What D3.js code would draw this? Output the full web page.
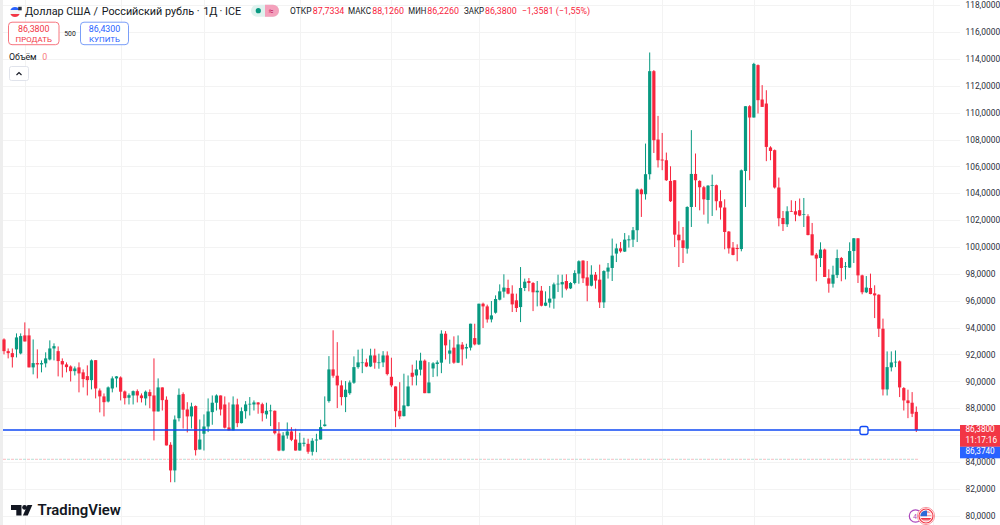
<!DOCTYPE html>
<html>
<head>
<meta charset="utf-8">
<script src="https://cdn.jsdelivr.net/npm/d3@7"></script>
<style>
  html, body { margin: 0; padding: 0; background: #fff; overflow: hidden; }
  svg { display: block; }
  text { font-family: Roboto, "Noto Sans", sans-serif; }
</style>
</head>
<body>
<script>
const width = 1000;
const height = 525;
const plotRight = 960;

const upColor = "#089981";
const downColor = "#f7253d";
const levelColor = "#0f49f5";
const gridColor = "#f3f3f3";
const textColor = "#131722";

// daily candles
const opens = [93.12,92.25,92.10,92.38,92.08,93.42,93.42,91.04,91.36,91.26,91.34,91.63,92.45,92.25,91.51,91.26,91.11,90.76,91.04,90.67,
  90.39,90.09,91.58,89.32,88.88,88.50,89.47,90.22,90.29,89.25,88.78,88.95,89.27,88.95,88.73,89.20,88.95,87.76,89.55,88.63,
  85.28,83.37,87.26,89.05,87.91,87.39,88.16,84.93,86.10,86.64,87.71,88.41,88.95,88.28,86.57,86.35,88.28,86.89,87.78,88.28,
  88.28,88.43,88.30,87.54,87.78,87.81,86.12,84.85,85.97,86.27,85.67,84.85,85.35,85.35,84.76,85.60,85.67,86.67,88.53,90.89,
  90.42,89.70,88.83,89.12,89.90,91.06,91.39,91.41,91.11,91.93,91.39,91.41,91.93,90.34,89.62,87.81,87.41,88.16,90.64,90.44,
  90.87,91.54,89.12,90.96,91.29,91.39,93.55,92.06,92.51,91.39,92.73,92.45,92.51,93.22,92.75,95.78,95.58,94.61,95.11,96.08,
  96.68,96.95,96.53,96.03,95.53,96.95,97.47,97.32,96.63,96.75,95.63,95.86,96.16,97.22,97.22,97.47,96.92,97.32,98.02,98.99,
  97.74,97.12,97.94,97.57,95.88,98.17,98.44,99.51,99.90,99.66,100.50,100.55,101.25,104.28,103.93,105.42,113.09,108.00,106.51,106.46,
  104.92,104.97,100.92,100.50,99.88,102.98,105.44,104.92,104.45,103.50,104.58,104.60,103.41,102.94,101.15,99.96,99.93,99.85,105.66,110.48,
  109.64,113.54,110.98,110.68,107.41,107.21,104.43,102.16,101.69,102.68,102.66,102.74,102.39,102.29,100.95,99.43,99.18,99.81,97.67,97.27,
  97.91,99.18,98.51,98.47,99.70,100.65,97.89,96.63,96.95,96.55,96.45,93.92,89.40,91.04,91.41,91.49,89.50,88.58,88.41,87.73];
const highs = [93.20,92.45,92.45,93.57,93.57,94.39,93.94,93.12,92.38,91.56,92.16,93.05,92.83,92.60,91.71,91.41,91.19,91.11,91.41,90.89,
  91.19,91.63,91.58,89.47,89.10,89.62,90.37,90.39,90.37,89.32,89.10,89.32,89.40,89.10,89.32,89.40,91.71,90.22,89.55,88.88,
  85.47,87.46,89.47,89.18,88.45,88.41,88.21,87.16,87.54,88.73,88.95,89.03,88.95,88.88,88.43,88.88,88.71,88.06,88.53,88.83,
  88.58,88.45,88.41,88.41,88.26,87.83,86.96,86.22,86.94,86.59,86.47,86.17,85.80,85.73,85.77,86.10,87.14,88.88,91.88,93.80,
  92.92,90.07,90.02,90.07,91.86,92.36,92.43,91.69,92.43,92.43,92.06,92.25,92.23,91.76,89.62,89.94,90.57,90.44,91.24,91.56,
  92.13,91.63,91.43,91.43,91.56,93.80,93.74,93.10,93.35,93.42,92.92,92.80,94.29,94.29,95.78,95.86,95.71,95.98,96.40,97.22,
  97.97,97.57,97.15,96.53,98.51,97.65,97.69,97.39,97.47,97.10,96.70,97.10,97.35,97.94,97.94,97.97,97.39,98.27,99.01,99.01,
  98.96,98.64,98.14,98.69,98.27,98.81,100.63,100.25,100.37,101.04,100.87,101.49,104.35,104.35,107.70,114.48,113.17,109.76,108.49,107.03,
  106.01,104.97,101.92,101.49,103.03,108.70,106.96,104.97,104.55,104.60,105.39,104.65,104.23,103.55,101.19,100.37,100.20,105.77,110.48,110.56,
  113.71,113.59,112.05,111.67,107.50,107.26,105.17,102.68,103.03,103.48,103.43,103.61,103.65,102.44,101.79,99.55,100.35,99.88,98.34,98.61,
  99.81,99.26,98.88,100.35,100.67,100.65,97.94,97.84,98.02,97.15,96.48,94.67,92.23,92.23,92.30,91.56,89.57,89.38,89.20,88.13];
const lows = [92.01,91.71,91.03,91.78,92.01,92.97,91.04,90.52,90.22,90.67,91.04,91.56,91.56,90.37,90.29,90.67,89.99,90.44,89.18,89.55,
  88.95,89.40,88.73,87.69,87.39,88.43,89.18,89.55,88.58,88.28,88.28,88.28,88.43,88.43,88.21,88.00,85.60,87.76,87.83,85.23,
  82.49,82.49,87.02,86.49,86.20,86.49,84.48,84.93,84.85,86.22,86.77,87.83,87.46,86.49,86.35,86.35,86.59,86.87,87.22,87.46,
  87.83,87.59,87.02,87.22,86.67,86.05,84.80,84.80,85.73,85.55,84.85,84.85,85.15,84.61,84.48,84.73,85.67,86.64,88.41,90.27,
  88.01,88.21,87.71,89.00,89.82,90.94,90.61,91.06,91.06,90.94,90.94,91.06,90.44,89.57,86.59,87.19,87.39,88.13,89.70,89.70,
  90.44,89.12,89.12,90.32,90.37,90.61,91.63,91.31,91.31,91.36,91.19,91.69,92.30,92.68,92.70,93.97,94.37,94.39,95.04,96.03,
  96.23,96.48,95.16,95.16,94.41,96.72,96.70,95.23,95.58,95.58,95.60,95.49,95.41,96.65,96.23,96.78,96.87,97.22,97.27,97.32,
  95.96,97.07,96.90,95.46,95.46,97.65,97.47,98.88,99.58,99.63,99.96,100.00,100.37,102.24,103.53,105.02,107.00,105.92,105.72,104.92,
  103.35,100.00,98.51,98.81,99.51,101.49,102.98,102.73,102.41,101.74,102.31,102.73,102.04,99.83,99.51,99.38,98.94,99.68,102.98,104.97,
  109.64,109.94,110.43,106.39,106.46,104.35,101.54,101.19,101.49,102.61,101.92,102.29,101.49,100.87,99.38,97.45,98.51,97.77,96.60,96.98,
  97.69,97.45,97.59,98.44,98.81,97.32,96.48,96.57,96.48,94.71,93.30,88.95,88.95,90.74,91.06,88.83,87.83,87.26,87.34,86.23];
const closes = [92.25,92.10,91.80,93.27,93.37,92.97,91.04,91.36,91.26,91.36,91.71,92.45,92.62,91.51,91.26,91.06,90.76,90.96,90.59,90.17,
  90.09,91.56,89.47,88.88,88.45,89.55,90.22,90.37,89.23,88.75,88.97,89.27,88.95,88.75,89.23,88.90,87.76,89.55,88.60,85.23,
  83.37,87.16,89.00,87.89,87.39,88.13,84.88,85.67,86.64,87.76,88.41,88.95,87.91,86.55,86.35,88.28,86.89,87.78,88.28,88.33,
  88.43,88.28,87.63,87.81,87.83,86.14,84.85,85.97,86.27,85.65,84.85,85.43,85.43,84.76,85.58,85.67,86.59,86.79,90.89,90.42,
  89.70,88.83,89.38,89.92,91.06,91.41,91.41,91.11,91.93,91.39,91.41,91.93,90.54,89.70,87.78,87.39,88.21,89.62,90.34,90.89,
  91.54,89.12,89.92,91.34,91.41,93.55,92.68,92.30,91.39,92.75,92.38,92.55,94.29,92.75,95.78,95.58,94.61,94.91,96.13,96.70,
  96.98,96.53,95.73,95.46,96.95,97.42,97.32,96.63,96.75,95.63,95.86,96.16,97.22,97.27,97.39,96.90,97.32,98.06,98.94,97.67,
  97.12,97.94,97.50,95.88,98.21,98.47,99.36,99.90,99.68,100.55,100.57,101.25,104.28,103.93,105.42,113.09,107.95,106.46,106.44,104.97,
  103.41,100.92,100.50,99.93,102.98,105.44,104.97,104.45,103.55,104.57,104.60,103.41,102.94,101.12,99.90,99.41,99.85,105.71,110.48,109.64,
  113.63,110.93,110.43,107.45,107.15,104.43,102.14,101.71,102.66,102.64,102.41,102.34,102.44,100.89,99.38,99.14,99.81,97.77,97.27,97.94,
  99.18,98.44,98.56,99.70,100.65,97.89,96.63,96.98,96.50,96.40,93.92,89.40,91.06,91.41,91.46,89.55,88.58,88.38,87.59,86.38];

const priceTicks = d3.range(80, 119, 2);
// candle index under each vertical grid line
const gridCandles = [5, 28, 48, 71, 93, 114, 137, 158, 180, 203, 223];

const lastPrice = 86.38;
const prevClosePrice = 84.2;

// header pieces with where each starts
const titleParts = [["Доллар США", 25], ["/", 93.5], ["Российский рубль", 101.7], ["·", 196.8], ["1Д", 203.2], ["·", 219.6], ["ICE", 225]];
const legendParts = [["ОТКР", 290, 21.5, "87,7334", 312.7], ["МАКС", 348, 23, "88,1260", 372.3], ["МИН", 408.3, 18, "86,2260", 427.3], ["ЗАКР", 464, 20, "86,3800", 485]];
const changeText = "−1,3581 (−1,55%)";

const svg = d3.select("body").append("svg")
  .attr("width", width)
  .attr("height", height);

const x = d3.scaleLinear().domain([0, 219]).range([4, 916.3]);
const y = d3.scaleLinear().domain([80, 118]).range([515.7, 5.2]);

// grid
svg.append("g").selectAll("line")
  .data(priceTicks)
  .enter().append("line")
    .attr("x1", 3).attr("x2", plotRight)
    .attr("y1", d => Math.round(y(d)) + 0.5)
    .attr("y2", d => Math.round(y(d)) + 0.5)
    .attr("stroke", gridColor);
svg.append("g").selectAll("line")
  .data(gridCandles)
  .enter().append("line")
    .attr("x1", d => Math.round(x(d)) + 0.5)
    .attr("x2", d => Math.round(x(d)) + 0.5)
    .attr("y1", 0).attr("y2", height)
    .attr("stroke", gridColor);

// thin strip on the left edge
svg.append("rect").attr("x", 0).attr("y", 0).attr("width", 3).attr("height", height).attr("fill", "#eeeeee");

// price axis
const yAxis = d3.axisRight(y)
  .tickValues(priceTicks)
  .tickSize(0)
  .tickPadding(0)
  .tickFormat(d => d3.format(".4f")(d).replace(".", ","));
const axisG = svg.append("g")
  .attr("transform", "translate(965.5,0)")
  .call(yAxis);
axisG.select(".domain").remove();
axisG.selectAll("text")
  .style("font-family", "Roboto, sans-serif")
  .style("font-size", "8.4px")
  .attr("fill", "#2a2e39");

// dashed line for the previous level, red and green dashes taking turns
[["#f9bcc0", 0], ["#b4e0d8", 4]].forEach(([c, off]) => {
  svg.append("line")
    .attr("x1", 3).attr("x2", 918)
    .attr("y1", y(prevClosePrice)).attr("y2", y(prevClosePrice))
    .attr("stroke", c)
    .attr("stroke-dasharray", "3 5")
    .attr("stroke-dashoffset", off);
});

// candles
const idx = d3.range(opens.length);
const candles = svg.append("g").selectAll("g")
  .data(idx)
  .enter().append("g");
candles.append("line")
  .attr("x1", i => x(i)).attr("x2", i => x(i))
  .attr("y1", i => y(highs[i])).attr("y2", i => y(lows[i]))
  .attr("stroke", i => closes[i] >= opens[i] ? upColor : downColor)
  .attr("stroke-width", 1);
candles.append("rect")
  .attr("x", i => x(i) - 1.6)
  .attr("width", 3.2)
  .attr("y", i => y(Math.max(opens[i], closes[i])))
  .attr("height", i => Math.max(0.7, Math.abs(y(opens[i]) - y(closes[i]))))
  .attr("fill", i => closes[i] >= opens[i] ? upColor : downColor);

// horizontal level with its handle
svg.append("line")
  .attr("x1", 3).attr("x2", plotRight)
  .attr("y1", y(lastPrice)).attr("y2", y(lastPrice))
  .attr("stroke", levelColor)
  .attr("stroke-width", 1.5);
svg.append("rect")
  .attr("x", 860).attr("y", y(lastPrice) - 3.5)
  .attr("width", 8).attr("height", 8).attr("rx", 2)
  .attr("fill", "#fff")
  .attr("stroke", levelColor)
  .attr("stroke-width", 1.3);

// price tags
svg.append("rect").attr("x", plotRight).attr("y", 425).attr("width", 40).attr("height", 21.8).attr("fill", "#f23645");
svg.append("rect").attr("x", plotRight).attr("y", 446.8).attr("width", 40).attr("height", 11.5).attr("fill", "#2962ff");
[["86,3800", 429.9], ["11:17:16", 441], ["86,3740", 452]].forEach(([t, ty]) => {
  svg.append("text").attr("x", 965.5).attr("y", ty)
    .attr("dominant-baseline", "middle")
    .attr("fill", "#fff").attr("font-size", 8.2).text(t);
});

// header
const flag = svg.append("g");
flag.append("circle").attr("cx", 15).attr("cy", 12).attr("r", 5).attr("fill", "#f4f4f4");
flag.append("path").attr("d", "M10.4 10 A5 5 0 0 1 19.6 10 Z").attr("fill", "#2962ff");
flag.append("path").attr("d", "M10.4 14 A5 5 0 0 0 19.6 14 Z").attr("fill", "#f23645");
flag.append("rect").attr("x", 18.2).attr("y", 6.8).attr("width", 3.5).attr("height", 3.5).attr("fill", "#2f3542");

svg.selectAll(".title").data(titleParts).enter().append("text")
  .attr("class", "title")
  .attr("x", d => d[1]).attr("y", 15)
  .attr("font-size", 10.8).attr("fill", textColor)
  .text(d => d[0]);

svg.append("rect").attr("x", 251).attr("y", 4.7).attr("width", 28).attr("height", 12).attr("rx", 6).attr("fill", "#dff2ee");
svg.append("path").attr("d", "M265 4.7 h8 a6 6 0 0 1 0 12 h-8 Z").attr("fill", "#f4a0bb");
svg.append("circle").attr("cx", 258.3).attr("cy", 10.7).attr("r", 2.6).attr("fill", upColor);
svg.append("text").attr("x", 271.3).attr("y", 13.6).attr("text-anchor", "middle").attr("font-size", 9).attr("fill", "#c2185b").text("≈");

legendParts.forEach(([label, lx, lw, value, vx]) => {
  svg.append("text").attr("x", lx).attr("y", 14).attr("font-size", 8.9).attr("fill", textColor)
    .attr("textLength", lw).attr("lengthAdjust", "spacingAndGlyphs").text(label);
  svg.append("text").attr("x", vx).attr("y", 14).attr("font-size", 8.9).attr("fill", downColor).text(value);
});
svg.append("text").attr("x", 521.7).attr("y", 14).attr("font-size", 8.9).attr("fill", downColor).text(changeText);

// trade buttons
[[8.5, 50.5, "#f7767f", "#f23645", "86,3800", "ПРОДАТЬ"], [80.5, 48, "#7a9ef8", "#2962ff", "86,4300", "КУПИТЬ"]]
  .forEach(([bx, bw, border, c, price, label]) => {
    svg.append("rect").attr("x", bx).attr("y", 22.2).attr("width", bw).attr("height", 22.5).attr("rx", 3.5)
      .attr("fill", "#fff").attr("stroke", border);
    svg.append("text").attr("x", bx + bw / 2).attr("y", 32.3).attr("text-anchor", "middle")
      .attr("font-size", 8.9).attr("fill", c).text(price);
    svg.append("text").attr("x", bx + bw / 2).attr("y", 41.8).attr("text-anchor", "middle")
      .attr("font-size", 7.9).attr("fill", c).text(label);
  });
svg.append("text").attr("x", 70).attr("y", 36.3).attr("text-anchor", "middle").attr("font-size", 6.8).attr("fill", textColor).text("500");

svg.append("text").attr("x", 9).attr("y", 60).attr("font-size", 8.8).attr("fill", textColor).text("Объём");
svg.append("text").attr("x", 42.3).attr("y", 60).attr("font-size", 8.8).attr("fill", "#f77c80").text("0");

svg.append("rect").attr("x", 9.5).attr("y", 66.5).attr("width", 19).attr("height", 14).attr("rx", 2)
  .attr("fill", "#fff").attr("stroke", "#e0e3eb");
svg.append("path").attr("d", "M16.5 75 L19 72.5 L21.5 75").attr("fill", "none").attr("stroke", textColor).attr("stroke-width", 1.1);

// logo
const logo = svg.append("g").attr("fill", "#131722");
logo.append("path").attr("d", "M11 505 h10.5 v10.5 h-5.2 v-5.5 h-5.3 Z");
logo.append("circle").attr("cx", 24.6).attr("cy", 507.4).attr("r", 2.4);
logo.append("path").attr("d", "M27.5 505 h4.8 l-4.6 10.5 h-4.8 Z");
svg.append("text").attr("x", 37.5).attr("y", 515).attr("font-family", "Inter").attr("font-weight", 600)
  .attr("font-size", 14.9).attr("fill", "#131722").text("TradingView");

// event icons
svg.append("circle").attr("cx", 915.5).attr("cy", 516).attr("r", 6.2).attr("fill", "#fff").attr("stroke", "#ab47bc").attr("stroke-width", 1.2);
svg.append("text").attr("x", 915).attr("y", 519).attr("text-anchor", "middle").attr("font-size", 7).attr("fill", "#ab47bc").text("4");
svg.append("circle").attr("cx", 926).attr("cy", 516).attr("r", 8.6).attr("fill", "#fff").attr("stroke", "#f89aa2").attr("stroke-width", 1);
svg.append("circle").attr("cx", 926).attr("cy", 516).attr("r", 7).attr("fill", "#fff").attr("stroke", "#f23645").attr("stroke-width", 1.2);
svg.append("clipPath").attr("id", "flagClip").append("circle").attr("cx", 926).attr("cy", 516).attr("r", 5.6);
const usFlag = svg.append("g").attr("clip-path", "url(#flagClip)");
usFlag.append("rect").attr("x", 920).attr("y", 510).attr("width", 12).attr("height", 12).attr("fill", "#f6a6ac");
usFlag.append("rect").attr("x", 920).attr("y", 513.2).attr("width", 12).attr("height", 1.6).attr("fill", "#fff");
usFlag.append("rect").attr("x", 920).attr("y", 516.4).attr("width", 12).attr("height", 1.6).attr("fill", "#fff");
usFlag.append("rect").attr("x", 920).attr("y", 518).attr("width", 12).attr("height", 1.6).attr("fill", "#f23645");
usFlag.append("rect").attr("x", 920).attr("y", 510).attr("width", 7).attr("height", 6.2).attr("fill", "#2f6bd8");
</script>
</body>
</html>
